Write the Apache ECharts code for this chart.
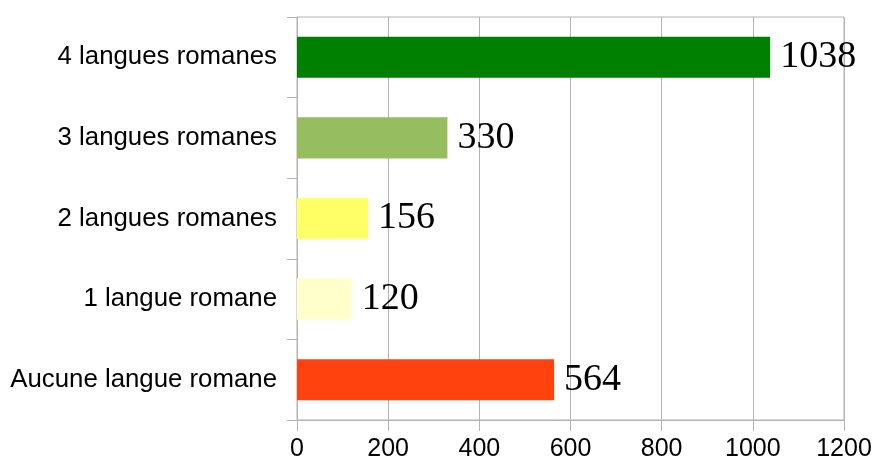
<!DOCTYPE html>
<html>
<head>
<meta charset="utf-8">
<script src="https://cdn.jsdelivr.net/npm/echarts@6/dist/echarts.min.js"></script>
<style>
  html, body { margin: 0; padding: 0; background: #fff; }
  #chart { width: 873px; height: 462px; }
</style>
</head>
<body>
<div id="chart"></div>
<script>
// Categories listed bottom to top (category y axis grows upward)
const categories = [
  'Aucune langue romane',
  '1 langue romane',
  '2 langues romanes',
  '3 langues romanes',
  '4 langues romanes'
];
const counts = [564, 120, 156, 330, 1038];
const barColors = ['#ff420e', '#ffffcc', '#ffff66', '#97be5e', '#008000'];
const xTicks = { min: 0, max: 1200, interval: 200 };

const gridGray = '#b3b3b3';

const chart = echarts.init(document.getElementById('chart'), null, { renderer: 'canvas' });
chart.setOption({
  animation: false,
  backgroundColor: '#ffffff',
  grid: {
    left: 297, right: 29, top: 17, bottom: 42,
    show: true, borderColor: gridGray, borderWidth: 1,
    outerBoundsMode: 'none'
  },
  xAxis: {
    type: 'value',
    min: xTicks.min, max: xTicks.max, interval: xTicks.interval,
    axisLine: { show: true, lineStyle: { color: gridGray, width: 1 } },
    axisTick: { show: true, length: 11, lineStyle: { color: gridGray, width: 1 } },
    splitLine: { show: true, lineStyle: { color: gridGray, width: 1 } },
    axisLabel: {
      margin: 17,
      fontFamily: 'Liberation Sans',
      fontSize: 25,
      color: '#000',
      formatter: v => String(v)
    }
  },
  yAxis: {
    type: 'category',
    data: categories,
    axisLine: { show: true, lineStyle: { color: gridGray, width: 1 } },
    axisTick: { show: true, length: 10, alignWithLabel: false, lineStyle: { color: gridGray, width: 1 } },
    splitLine: { show: false },
    axisLabel: {
      margin: 20,
      fontFamily: 'Liberation Sans',
      fontSize: 25.8,
      color: '#000'
    }
  },
  series: [{
    type: 'bar',
    barWidth: '51%',
    data: counts.map((v, i) => ({ value: v, itemStyle: { color: barColors[i] } })),
    label: {
      show: true,
      position: 'right',
      distance: 10,
      fontFamily: 'Liberation Serif',
      fontSize: 38,
      color: '#000',
      formatter: p => String(p.value)
    }
  }]
});
</script>
</body>
</html>
